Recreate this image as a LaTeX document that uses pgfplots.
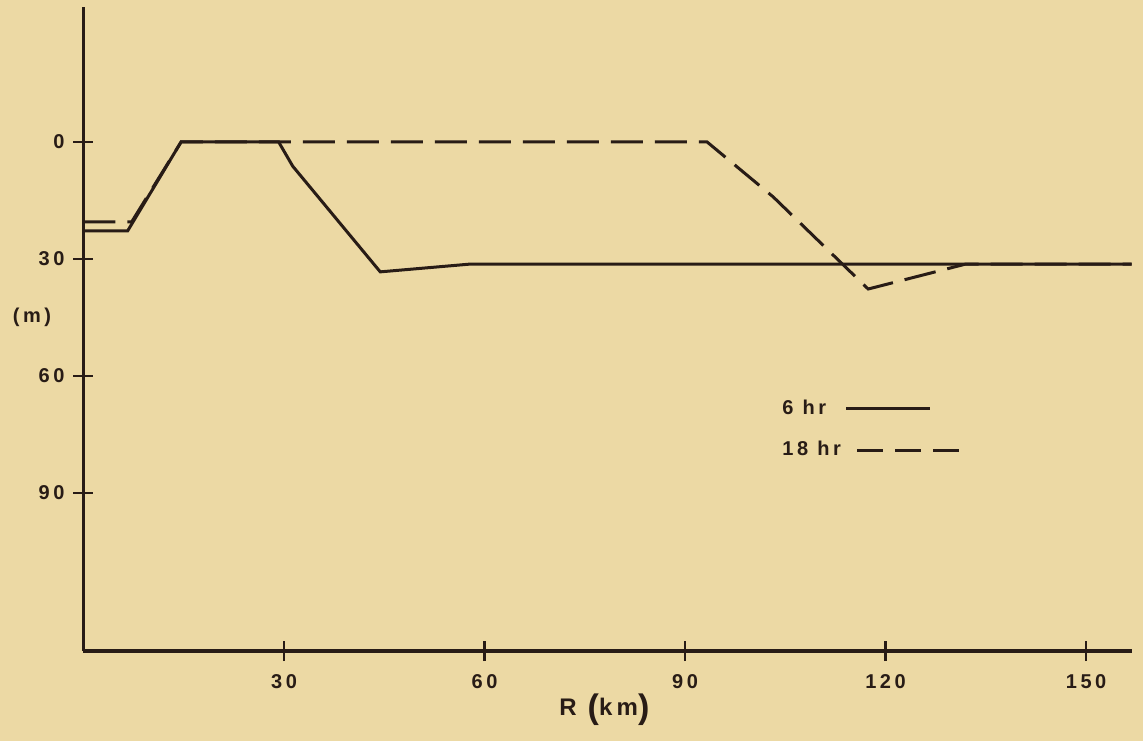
\documentclass[border=0pt]{standalone}
\usepackage{pgfplots}
\pgfplotsset{compat=1.18}
\usepackage{fontspec}
\newfontfamily\lab[LetterSpace=18]{Liberation Sans}
\definecolor{bg}{RGB}{236,217,164}
\definecolor{ink}{RGB}{40,28,22}
\begin{document}
\begin{tikzpicture}
\fill[bg] (-41.75pt,-45pt) rectangle (529.75pt,325.5pt);
\begin{axis}[
  at={(0,0)}, anchor=south west,
  scale only axis, width=524pt, height=322pt,
  xmin=0, xmax=156.8, ymin=-130.5, ymax=34.6,
  clip=false,
  axis x line=bottom, axis y line=left,
  axis line style={-, ink, line width=1.6pt},
  xtick={30,60,90,120,150},
  ytick={0,-30,-60,-90}, yticklabels={0,30,60,90},
  tick align=center, major tick length=10pt,
  tick style={ink, line width=1.2pt},
  /pgf/number format/assume math mode=true,
  ticklabel style={font=\lab\bfseries\fontsize{10}{12}\selectfont, text=ink},
  yticklabel style={xshift=-1pt},
  xticklabel style={yshift=-3pt},
  xlabel={\lab\bfseries\fontsize{12}{14}\selectfont R \raisebox{-0.15em}{\fontsize{17}{17}\selectfont(}km\raisebox{-0.15em}{\fontsize{17}{17}\selectfont)}},
  xlabel style={text=ink, at={(axis description cs:0.497,0)}, anchor=center, yshift=-29.5pt},
  legend plot pos=right,
  legend style={draw=none, fill=none, at={(axis cs:103,-64)}, anchor=north west,
    font=\lab\bfseries\fontsize{10}{12}\selectfont, text=ink, row sep=8pt,
    cells={anchor=west}},
]
\addplot[ink, line width=1.5pt, legend image code/.code={\draw[ink, line width=1.5pt] (3pt,0pt) -- (45pt,0pt);}]
  coordinates {(0,-22.8) (6.6,-22.8) (14.6,0) (29.2,0) (31.3,-6.2) (44.4,-33.3) (57.9,-31.3) (156.8,-31.3)};
\addlegendentry{6 hr}
\addplot[ink, line width=1.5pt, dash pattern=on 16pt off 6pt, legend image code/.code={\draw[ink, line width=1.5pt, dash pattern=on 13pt off 6pt] (8.5pt,0pt) -- (61.5pt,0pt);}]
  coordinates {(0,-20.5) (7.2,-20.5) (14.6,0) (93.3,0) (103.2,-14.1) (117.4,-37.7) (132,-31.3) (156.8,-31.3)};
\addlegendentry{18 hr}
\node[text=ink, font=\lab\bfseries\fontsize{10}{12}\selectfont] at (axis cs:0,-45) [xshift=-25.75pt] {(m)};
\end{axis}
\end{tikzpicture}
\end{document}
